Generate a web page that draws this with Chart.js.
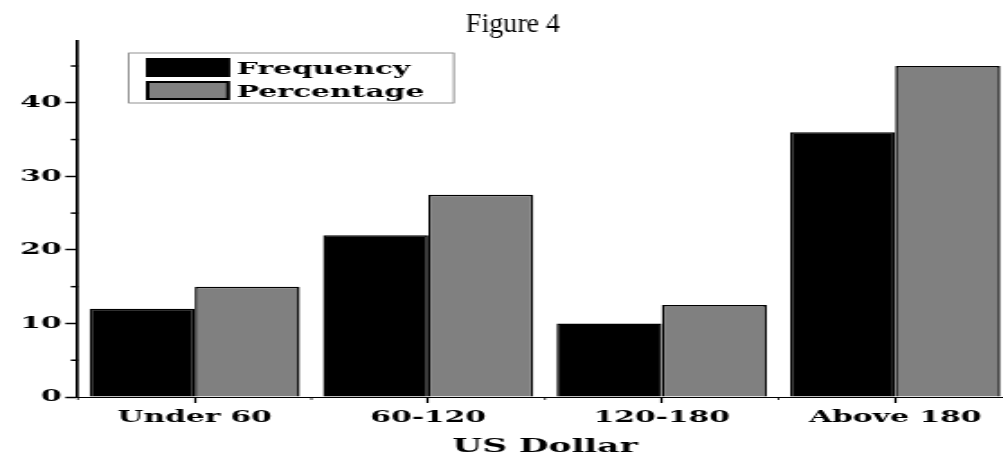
<!DOCTYPE html>
<html>
<head>
<meta charset="utf-8">
<script src="https://cdn.jsdelivr.net/npm/chart.js@4/dist/chart.umd.min.js"></script>
<style>
  html, body { margin: 0; padding: 0; background: #fff; overflow: hidden; }
  #frame { width: 1003px; height: 458px; overflow: hidden; position: relative; }
  /* the original figure is stretched sideways, so the chart is drawn narrow and widened */
  #wrap { width: 565px; height: 458px; transform: scaleX(1.8); transform-origin: 0 0; }
</style>
</head>
<body>
<div id="frame"><div id="wrap"><canvas id="chart"></canvas></div></div>
<script>
const STRETCH = 1.8;

const categories = ['Under 60', '60-120', '120-180', 'Above 180'];
const frequency = [12, 22, 10, 36];
const percentage = [15, 27.5, 12.5, 45];
const yMajorTicks = [0, 10, 20, 30, 40];
const yMinorTicks = [5, 15, 25, 35, 45];

const serifBold = { family: 'DejaVu Serif', weight: 'bold' };

// minor ticks on both axes
const minorTicks = {
  id: 'minorTicks',
  afterDraw(chart) {
    const { ctx, chartArea, scales } = chart;
    ctx.save();
    ctx.strokeStyle = '#000';
    ctx.lineWidth = 1.5;
    yMinorTicks.forEach(v => {
      const y = scales.y.getPixelForValue(v);
      ctx.beginPath();
      ctx.moveTo(chartArea.left - 4, y);
      ctx.lineTo(chartArea.left, y);
      ctx.stroke();
    });
    ctx.lineWidth = 0.8;
    for (let i = 0; i <= categories.length; i++) {
      const x = scales.x.getPixelForValue(i - 0.5);
      ctx.beginPath();
      ctx.moveTo(x, chartArea.bottom);
      ctx.lineTo(x, chartArea.bottom + 3);
      ctx.stroke();
    }
    ctx.restore();
  }
};

// boxed legend inside the plot, upper left
const boxLegend = {
  id: 'boxLegend',
  afterDraw(chart) {
    const { ctx, chartArea } = chart;
    const x0 = chartArea.left + 28.3;
    const y0 = chartArea.top + 12;
    ctx.save();
    ctx.strokeStyle = '#777';
    ctx.lineWidth = 0.8;
    ctx.strokeRect(x0, y0, 180.5, 50);
    ctx.font = 'bold 16.5px "DejaVu Serif"';
    ctx.textBaseline = 'alphabetic';
    chart.data.datasets.forEach((ds, i) => {
      const sy = y0 + 5 + i * 23;
      ctx.fillStyle = ds.backgroundColor;
      ctx.fillRect(x0 + 9.4, sy, 46.7, 19);
      ctx.strokeStyle = '#000';
      ctx.lineWidth = 2;
      ctx.strokeRect(x0 + 10.4, sy + 1, 44.7, 17);
      ctx.fillStyle = '#000';
      ctx.fillText(ds.label, x0 + 60, sy + 16);
    });
    ctx.restore();
  }
};

// caption above the plot, drawn without the sideways stretch
const caption = {
  id: 'caption',
  afterDraw(chart) {
    const { ctx } = chart;
    ctx.save();
    ctx.scale(1 / STRETCH, 1);
    ctx.font = '28px "Liberation Serif"';
    ctx.fillStyle = '#000';
    ctx.textAlign = 'center';
    ctx.textBaseline = 'alphabetic';
    ctx.fillText('Figure 4', 513, 32);
    ctx.restore();
  }
};

new Chart(document.getElementById('chart'), {
  type: 'bar',
  data: {
    labels: categories,
    datasets: [
      { label: 'Frequency', data: frequency, backgroundColor: '#000000', borderColor: '#000', borderWidth: 1.5 },
      { label: 'Percentage', data: percentage, backgroundColor: '#808080', borderColor: '#000', borderWidth: 1.5 }
    ]
  },
  options: {
    responsive: true,
    maintainAspectRatio: false,
    animation: false,
    events: [],
    layout: { padding: { top: 41, right: 2.8, left: 0, bottom: 0 } },
    datasets: { bar: { categoryPercentage: 0.9, barPercentage: 1.0 } },
    plugins: { legend: { display: false }, tooltip: { enabled: false } },
    scales: {
      x: {
        grid: { display: true, drawOnChartArea: false, offset: false, tickLength: 6, tickColor: '#000', tickWidth: 1.2 },
        border: { display: true, color: '#000', width: 1 },
        ticks: { color: '#000', font: { ...serifBold, size: 16.5 }, padding: 5, maxRotation: 0 },
        title: { display: true, text: 'US Dollar', color: '#000', font: { ...serifBold, size: 19 }, padding: { top: 2, bottom: 0 } },
        afterFit(scale) { scale.height = 61; }
      },
      y: {
        min: 0,
        max: 48.4,
        grid: { display: true, drawOnChartArea: false, tickLength: 7, tickColor: '#000', tickWidth: 1.5 },
        border: { display: true, color: '#000', width: 1.7 },
        ticks: { stepSize: 10, color: '#000', font: { ...serifBold, size: 16.5 }, padding: 2 },
        afterBuildTicks(scale) {
          scale.ticks = yMajorTicks.map(v => ({ value: v }));
        },
        afterFit(scale) { scale.width = 43.3; }
      }
    }
  },
  plugins: [minorTicks, boxLegend, caption]
});
</script>
</body>
</html>
